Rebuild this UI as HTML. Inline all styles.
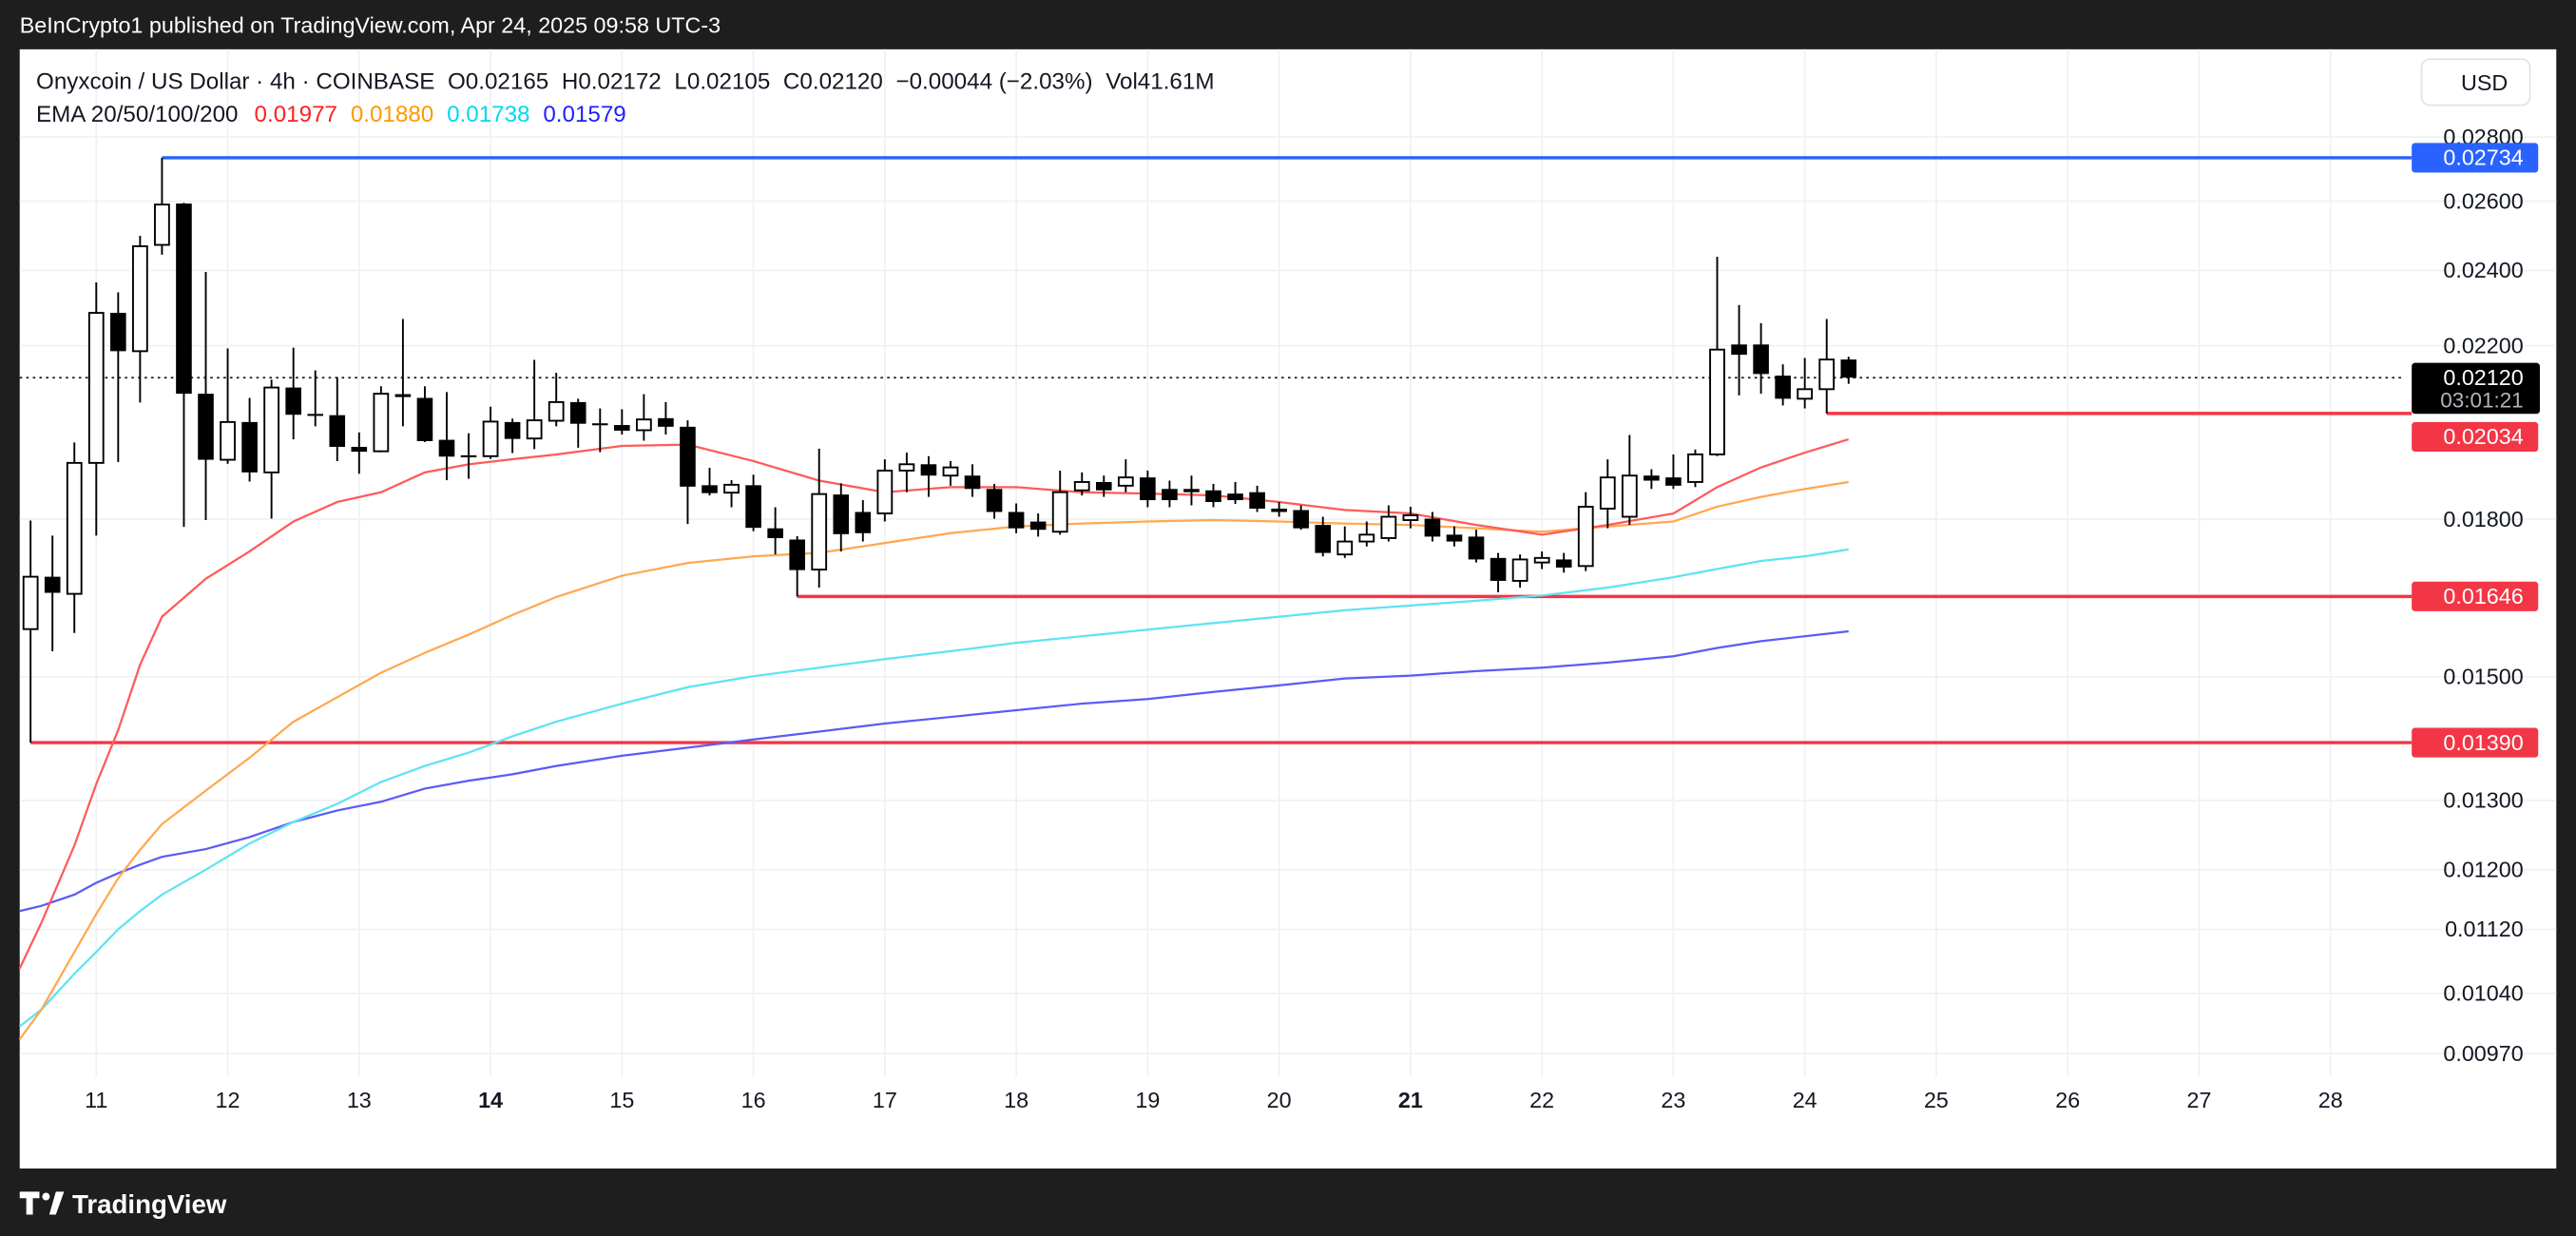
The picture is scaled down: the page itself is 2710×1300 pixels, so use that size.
<!DOCTYPE html>
<html><head><meta charset="utf-8"><style>
html,body{margin:0;padding:0;background:#1e1e1e;}
svg{display:block;font-family:"Liberation Sans",sans-serif;}
</style></head><body>
<svg id="chart" width="2710" height="1300" viewBox="0 0 1568 752" preserveAspectRatio="none" xmlns="http://www.w3.org/2000/svg">
<rect x="0" y="0" width="1568" height="752" fill="#1e1e1e"/>
<text x="12" y="20" fill="#ffffff" font-size="13.5">BeInCrypto1 published on TradingView.com, Apr 24, 2025 09:58 UTC-3</text>
<rect x="12" y="30" width="1544" height="681" fill="#ffffff"/>
<g id="grid"></g>
<g id="levels"></g>
<g id="emas"></g>
<g id="candles"></g>
<g id="axis"></g>
<text x="22" y="54" font-size="14" fill="#131722">Onyxcoin / US Dollar · 4h · COINBASE <tspan dx="4">O</tspan><tspan>0.02165</tspan> <tspan dx="4">H</tspan><tspan>0.02172</tspan> <tspan dx="4">L</tspan><tspan>0.02105</tspan> <tspan dx="4">C</tspan><tspan>0.02120</tspan> <tspan dx="4">−0.00044 (−2.03%)</tspan> <tspan dx="4">Vol</tspan><tspan>41.61M</tspan></text>
<text x="22" y="74" font-size="14" fill="#131722">EMA 20/50/100/200 <tspan dx="6" fill="#ff1f1f">0.01977</tspan><tspan dx="8" fill="#ff9800">0.01880</tspan><tspan dx="8" fill="#00d8f0">0.01738</tspan><tspan dx="8" fill="#1f1fff">0.01579</tspan></text>
<rect x="1474" y="36" width="66" height="28" rx="5" fill="#fff" stroke="#e0e3eb"/>
<text x="1498" y="55" font-size="13.5" fill="#131722">USD</text>
<rect x="0" y="711" width="1568" height="41" fill="#1e1e1e"/>
<g><path d="M12 725h12v4h-4v10h-4v-10h-4z" fill="#fff"/><circle cx="28" cy="728" r="2.3" fill="#fff"/><path d="M30 739l4-14h5l-5 14z" fill="#fff"/></g>
<text x="44" y="738" font-size="16" font-weight="bold" fill="#ffffff">TradingView</text>
</svg>
<script>
const opens=[.01585,.01684,.01651,.01921,.02285,.02186,.02472,.02593,.02081,.01928,.02014,.01900,.02096,.02033,.02030,.01957,.01947,.02080,.02071,.01973,.01938,.01936,.02014,.01976,.02017,.02061,.02011,.02007,.01995,.02023,.02003,.01872,.01856,.01872,.01781,.01758,.01698,.01852,.01815,.01812,.01904,.01918,.01893,.01893,.01864,.01815,.01795,.01774,.01861,.01879,.01871,.01889,.01864,.01864,.01861,.01854,.01857,.01822,.01819,.01788,.01728,.01754,.01761,.01798,.01801,.01768,.01764,.01721,.01676,.01712,.01718,.01705,.01822,.01805,.01893,.01889,.01879,.01940,.02203,.02203,.02125,.02069,.02092,.02165];
const highs=[.01797,.01766,.01967,.02367,.02340,.02498,.02734,.02595,.02396,.02193,.02071,.02115,.02195,.02138,.02121,.01990,.02099,.02269,.02099,.02085,.01988,.02050,.02022,.02164,.02132,.02069,.02046,.02044,.02080,.02061,.02018,.01910,.01883,.01895,.01825,.01765,.01953,.01876,.01840,.01929,.01944,.01936,.01925,.01918,.01875,.01833,.01812,.01904,.01900,.01893,.01929,.01904,.01882,.01893,.01875,.01879,.01871,.01836,.01829,.01805,.01785,.01795,.01829,.01826,.01815,.01785,.01778,.01731,.01728,.01734,.01731,.01857,.01929,.01984,.01907,.01940,.01951,.02438,.02306,.02258,.02153,.02169,.02269,.02172];
const lows=[.01390,.01545,.01578,.01766,.01923,.02060,.02444,.01784,.01798,.01919,.01880,.01801,.01974,.02004,.01925,.01897,.01945,.02004,.01968,.01883,.01886,.01930,.01943,.01952,.02004,.01955,.01945,.01985,.01971,.01985,.01790,.01850,.01825,.01775,.01728,.01646,.01663,.01734,.01754,.01795,.01857,.01847,.01871,.01847,.01801,.01771,.01764,.01768,.01850,.01847,.01857,.01825,.01825,.01829,.01825,.01832,.01815,.01805,.01778,.01724,.01721,.01744,.01754,.01781,.01754,.01744,.01712,.01654,.01663,.01699,.01692,.01695,.01781,.01788,.01864,.01864,.01868,.01936,.02077,.02081,.02053,.02046,.02034,.02105];
const closes=[.01684,.01653,.01921,.02285,.02186,.02468,.02590,.02081,.01928,.02014,.01900,.02096,.02031,.02031,.01957,.01946,.02081,.02073,.01970,.01935,.01937,.02015,.01975,.02018,.02061,.02010,.02010,.01994,.02020,.02003,.01869,.01855,.01873,.01782,.01761,.01697,.01853,.01769,.01771,.01904,.01918,.01893,.01911,.01864,.01815,.01781,.01778,.01857,.01879,.01861,.01889,.01840,.01840,.01857,.01836,.01840,.01822,.01815,.01781,.01731,.01754,.01768,.01805,.01808,.01764,.01754,.01718,.01676,.01718,.01721,.01702,.01826,.01889,.01893,.01882,.01871,.01940,.02190,.02177,.02129,.02069,.02092,.02165,.02120];
const emaIdx=[-0.5,0.5,2,3,4,5,6,8,10,12,14,16,18,20,22,24,27,30,33,36,39,42,45,48,51,54,57,60,63,66,69,72,75,77,79,81,83];
const ema20=[.01070,.01129,.01234,.01325,.01410,.01521,.01608,.01680,.01734,.01795,.01836,.01857,.01900,.01918,.01929,.01940,.01959,.01962,.01925,.01882,.01857,.01868,.01868,.01857,.01854,.01850,.01836,.01819,.01812,.01788,.01768,.01788,.01812,.01868,.01911,.01944,.01974];
const ema50=[.00986,.01021,.01091,.01140,.01188,.01228,.01265,.01315,.01366,.01424,.01465,.01507,.01542,.01575,.01611,.01645,.01686,.01711,.01724,.01731,.01751,.01771,.01785,.01791,.01795,.01798,.01795,.01791,.01788,.01781,.01774,.01785,.01795,.01826,.01847,.01864,.01879];
const ema100=[.01001,.01021,.01064,.01091,.01120,.01144,.01166,.01200,.01237,.01268,.01295,.01328,.01353,.01374,.01400,.01424,.01454,.01482,.01501,.01516,.01531,.01545,.01560,.01572,.01584,.01596,.01608,.01620,.01629,.01638,.01648,.01663,.01683,.01699,.01715,.01724,.01738];
const ema200=[.01144,.01151,.01166,.01182,.01195,.01207,.01218,.01229,.01246,.01268,.01285,.01298,.01318,.01330,.01340,.01353,.01369,.01382,.01395,.01408,.01421,.01432,.01443,.01454,.01462,.01474,.01485,.01497,.01502,.01510,.01516,.01525,.01536,.01551,.01563,.01572,.01581];
const priceTicks=[0.028,0.026,0.024,0.022,0.018,0.015,0.013,0.012,0.0112,0.0104,0.0097];
const dayLabels=[11,12,13,14,15,16,17,18,19,20,21,22,23,24,25,26,27,28];
const levelPrices=[0.02734,0.02034,0.01646,0.01390];
const levelStartIdx=[6,82,35,0];
const lastPrice=0.02120;

const NS="http://www.w3.org/2000/svg";
const refP=0.02734, refY=96, pxPerLn=526;
function yScale(p){return refY+pxPerLn*(Math.log(refP)-Math.log(p));}
function xScale(i){return 18.6+13.333*i;}
function dayIdx(d){return 3+(d-11)*6;}
function mk(tag,attrs,parent){const e=document.createElementNS(NS,tag);for(const k in attrs)e.setAttribute(k,attrs[k]);parent.appendChild(e);return e;}
const grid=document.getElementById('grid'),levels=document.getElementById('levels'),emas=document.getElementById('emas'),cg=document.getElementById('candles'),axis=document.getElementById('axis');
const plotRight=1462;
const labelRight=1536;

priceTicks.forEach(p=>{
  const y=yScale(p);
  const l=mk('line',{x1:12,x2:1556,y1:y,y2:y,stroke:'#f0f1f3','stroke-width':1},grid);
  
  
  const t=mk('text',{x:labelRight,y:y+4.5,'text-anchor':'end','font-size':13.5,fill:'#131722'},axis);
  t.textContent=p.toFixed(5);
  
  
});
dayLabels.forEach(d=>{
  const x=xScale(dayIdx(d));
  const l=mk('line',{x1:x,x2:x,y1:30,y2:655,stroke:'#f0f1f3','stroke-width':1},grid);
  
  
  const t=mk('text',{x:x,y:674,'text-anchor':'middle','font-size':13.5,fill:'#131722','font-weight':(d===14||d===21)?'bold':'normal'},axis);
  t.textContent=String(d);
  
  
});
{const y=yScale(lastPrice);
 const l=mk('line',{x1:12,x2:plotRight,y1:y,y2:y,stroke:'#131722','stroke-width':1,'stroke-dasharray':'1.5 2.5'},levels);
 
 }
const lastY=yScale(lastPrice);
levelPrices.forEach((p,k)=>{
  const y=yScale(p);const col=k===0?'#2962ff':'#f23645';
  const l=mk('line',{x1:xScale(levelStartIdx[k]),x2:plotRight+6,y1:y,y2:y,stroke:col,'stroke-width':2},levels);
  
  
  let ty=y;
  if(ty>lastY-10 && ty<lastY+36) ty=lastY+36;
  const r=mk('rect',{x:1468,y:ty-9,width:77,height:18,rx:2,fill:col},axis);
  
  
  const t=mk('text',{x:labelRight,y:ty+4.5,'text-anchor':'end','font-size':13.5,fill:'#fff'},axis);
  t.textContent=p.toFixed(5);
  
  
});
{const y=lastY;
 const r=mk('rect',{x:1468,y:y-9,width:78,height:31,rx:2,fill:'#000'},axis);
 
 
 const t=mk('text',{x:labelRight,y:y+4.5,'text-anchor':'end','font-size':13.5,fill:'#fff'},axis);
 t.textContent=lastPrice.toFixed(5);
 
 
 const t2=mk('text',{x:labelRight,y:y+18,'text-anchor':'end','font-size':13,fill:'#b2b5be'},axis);
 t2.textContent='03:01:21';
 
 }
[[ema200,'#5b5bf5','ema-200-line'],[ema100,'#5ee3f2','ema-100-line'],[ema50,'#ffa851','ema-50-line'],[ema20,'#ff5a5a','ema-20-line']].forEach(([arr,col,name])=>{
  const d=arr.map((v,i)=>(i?'L':'M')+xScale(emaIdx[i]).toFixed(1)+' '+yScale(v).toFixed(1)).join(' ');
  const p=mk('path',{d:d,fill:'none',stroke:col,'stroke-width':1.3},emas);
  
  
});
opens.forEach((o,i)=>{
  const c=closes[i],x=xScale(i);
  const g=mk('g',{},cg);
  
  
  mk('line',{x1:x,x2:x,y1:yScale(highs[i]),y2:yScale(lows[i]),stroke:'#000','stroke-width':1.1},g);
  const top=yScale(Math.max(o,c)),bot=yScale(Math.min(o,c));
  const h=Math.max(bot-top,1.2);
  if(c>=o) mk('rect',{x:x-4.3,y:top,width:8.6,height:h,fill:'#fff',stroke:'#000','stroke-width':1.1},g);
  else mk('rect',{x:x-4.8,y:top,width:9.6,height:h,fill:'#000'},g);
});
</script>
</body></html>
